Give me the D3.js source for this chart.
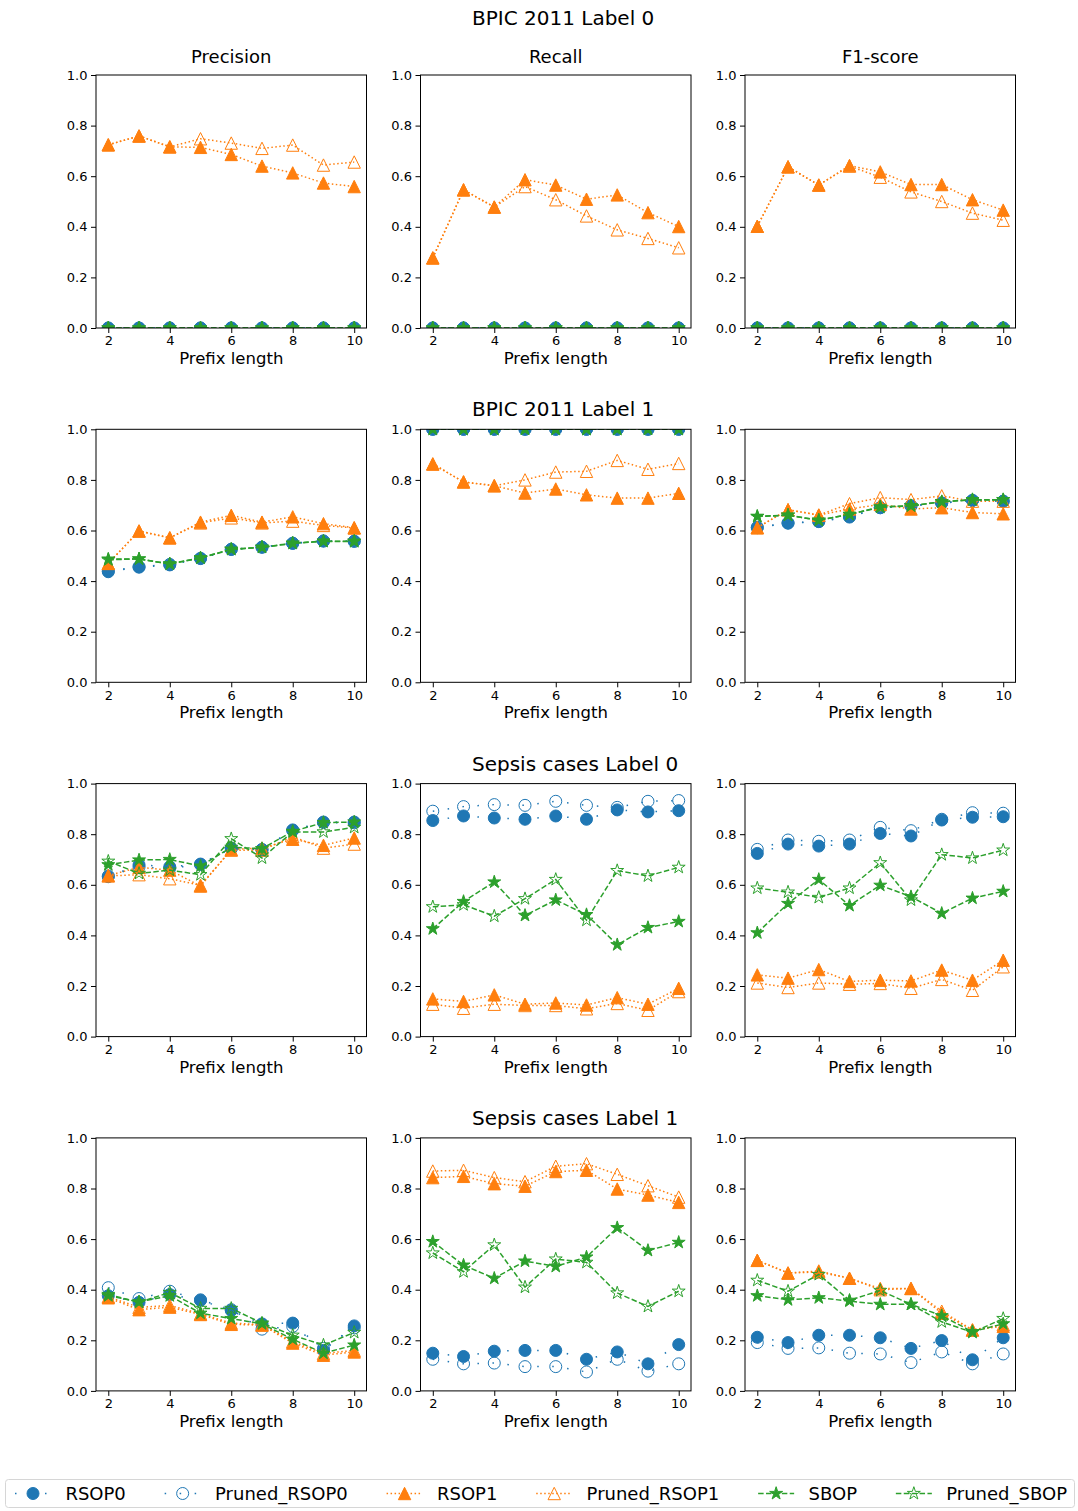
<!DOCTYPE html>
<html>
<head>
<meta charset="utf-8">
<script src="https://cdn.jsdelivr.net/npm/d3@7"></script>
<style>
  body { margin: 0; background: #ffffff; }
  svg { display: block; }
  text { font-family: "DejaVu Sans", sans-serif; fill: #000; }
</style>
</head>
<body>
<svg id="fig" width="1078" height="1511"></svg>
<script>
// ---- data -------------------------------------------------------------
const prefixLengths = [2, 3, 4, 5, 6, 7, 8, 9, 10];
const seriesNames = ["RSOP0", "Pruned_RSOP0", "RSOP1", "Pruned_RSOP1", "SBOP", "Pruned_SBOP"];
const metricNames = ["Precision", "Recall", "F1-score"];
const datasetTitles = ["BPIC 2011 Label 0", "BPIC 2011 Label 1", "Sepsis cases Label 0", "Sepsis cases Label 1"];
const xTickValues = [2, 4, 6, 8, 10];
const yTickValues = [0, 0.2, 0.4, 0.6, 0.8, 1.0];

// each panel: one list per series, in seriesNames order
const bpic0Precision = [
  [0, 0, 0, 0, 0, 0, 0, 0, 0],
  [0, 0, 0, 0, 0, 0, 0, 0, 0],
  [0.724, 0.759, 0.716, 0.714, 0.686, 0.640, 0.613, 0.573, 0.559],
  [0.724, 0.759, 0.716, 0.748, 0.731, 0.710, 0.723, 0.644, 0.656],
  [0, 0, 0, 0, 0, 0, 0, 0, 0],
  [0, 0, 0, 0, 0, 0, 0, 0, 0]
];
const bpic0Recall = [
  [0, 0, 0, 0, 0, 0, 0, 0, 0],
  [0, 0, 0, 0, 0, 0, 0, 0, 0],
  [0.277, 0.546, 0.478, 0.586, 0.565, 0.509, 0.526, 0.456, 0.401],
  [0.277, 0.546, 0.478, 0.559, 0.507, 0.443, 0.388, 0.354, 0.317],
  [0, 0, 0, 0, 0, 0, 0, 0, 0],
  [0, 0, 0, 0, 0, 0, 0, 0, 0]
];
const bpic0F1 = [
  [0, 0, 0, 0, 0, 0, 0, 0, 0],
  [0, 0, 0, 0, 0, 0, 0, 0, 0],
  [0.402, 0.637, 0.565, 0.642, 0.617, 0.567, 0.567, 0.507, 0.466],
  [0.402, 0.637, 0.565, 0.640, 0.596, 0.538, 0.500, 0.454, 0.426],
  [0, 0, 0, 0, 0, 0, 0, 0, 0],
  [0, 0, 0, 0, 0, 0, 0, 0, 0]
];
const bpic1Precision = [
  [0.437, 0.455, 0.464, 0.489, 0.525, 0.534, 0.549, 0.558, 0.558],
  [0.440, 0.457, 0.466, 0.490, 0.526, 0.534, 0.550, 0.559, 0.557],
  [0.470, 0.598, 0.571, 0.633, 0.660, 0.633, 0.654, 0.627, 0.611],
  [0.470, 0.598, 0.571, 0.630, 0.650, 0.630, 0.637, 0.620, 0.610],
  [0.487, 0.487, 0.468, 0.492, 0.526, 0.534, 0.550, 0.558, 0.558],
  [0.484, 0.488, 0.467, 0.491, 0.525, 0.533, 0.549, 0.557, 0.556]
];
const bpic1Recall = [
  [1, 1, 1, 1, 1, 1, 1, 1, 1],
  [1, 1, 1, 1, 1, 1, 1, 1, 1],
  [0.863, 0.792, 0.777, 0.748, 0.764, 0.741, 0.728, 0.728, 0.747],
  [0.863, 0.792, 0.777, 0.800, 0.831, 0.834, 0.877, 0.842, 0.865],
  [1, 1, 1, 1, 1, 1, 1, 1, 1],
  [1, 1, 1, 1, 1, 1, 1, 1, 1]
];
const bpic1F1 = [
  [0.611, 0.629, 0.635, 0.653, 0.690, 0.698, 0.708, 0.719, 0.716],
  [0.613, 0.630, 0.636, 0.655, 0.690, 0.697, 0.709, 0.719, 0.716],
  [0.611, 0.682, 0.661, 0.685, 0.703, 0.685, 0.690, 0.671, 0.666],
  [0.611, 0.682, 0.661, 0.706, 0.730, 0.722, 0.737, 0.716, 0.716],
  [0.656, 0.661, 0.640, 0.664, 0.693, 0.698, 0.714, 0.722, 0.722],
  [0.655, 0.660, 0.641, 0.663, 0.692, 0.697, 0.713, 0.721, 0.721]
];
const sepsis0Precision = [
  [0.632, 0.679, 0.671, 0.682, 0.743, 0.740, 0.817, 0.848, 0.848],
  [0.635, 0.670, 0.665, 0.680, 0.745, 0.738, 0.815, 0.846, 0.845],
  [0.637, 0.669, 0.658, 0.595, 0.740, 0.745, 0.780, 0.756, 0.785],
  [0.635, 0.640, 0.624, 0.598, 0.737, 0.737, 0.790, 0.745, 0.761],
  [0.679, 0.698, 0.700, 0.674, 0.748, 0.743, 0.811, 0.846, 0.848],
  [0.693, 0.645, 0.658, 0.640, 0.782, 0.706, 0.809, 0.809, 0.827]
];
const sepsis0Recall = [
  [0.854, 0.872, 0.864, 0.859, 0.872, 0.859, 0.896, 0.888, 0.893],
  [0.891, 0.909, 0.917, 0.914, 0.930, 0.914, 0.906, 0.930, 0.933],
  [0.149, 0.139, 0.165, 0.128, 0.133, 0.125, 0.154, 0.128, 0.191],
  [0.128, 0.112, 0.128, 0.123, 0.123, 0.110, 0.131, 0.104, 0.178],
  [0.426, 0.534, 0.611, 0.479, 0.540, 0.482, 0.363, 0.431, 0.455],
  [0.513, 0.521, 0.476, 0.545, 0.621, 0.460, 0.656, 0.635, 0.669]
];
const sepsis0F1 = [
  [0.724, 0.761, 0.753, 0.761, 0.803, 0.793, 0.856, 0.867, 0.869],
  [0.740, 0.777, 0.772, 0.777, 0.827, 0.814, 0.859, 0.885, 0.883],
  [0.244, 0.231, 0.265, 0.218, 0.223, 0.220, 0.263, 0.223, 0.302],
  [0.212, 0.194, 0.212, 0.207, 0.210, 0.191, 0.226, 0.183, 0.276],
  [0.410, 0.526, 0.621, 0.518, 0.598, 0.553, 0.487, 0.547, 0.574],
  [0.587, 0.571, 0.550, 0.587, 0.687, 0.540, 0.719, 0.706, 0.737]
];
const sepsis1Precision = [
  [0.376, 0.350, 0.381, 0.358, 0.318, 0.265, 0.268, 0.160, 0.257],
  [0.408, 0.365, 0.394, 0.360, 0.321, 0.244, 0.255, 0.168, 0.249],
  [0.368, 0.321, 0.331, 0.302, 0.263, 0.260, 0.189, 0.141, 0.154],
  [0.372, 0.330, 0.338, 0.305, 0.268, 0.262, 0.195, 0.148, 0.160],
  [0.376, 0.352, 0.376, 0.307, 0.286, 0.265, 0.204, 0.149, 0.181],
  [0.381, 0.350, 0.389, 0.326, 0.326, 0.268, 0.220, 0.181, 0.231]
];
const sepsis1Recall = [
  [0.149, 0.136, 0.157, 0.160, 0.160, 0.125, 0.154, 0.107, 0.183],
  [0.125, 0.107, 0.110, 0.096, 0.096, 0.075, 0.125, 0.078, 0.107],
  [0.843, 0.848, 0.819, 0.809, 0.867, 0.872, 0.798, 0.774, 0.745],
  [0.869, 0.872, 0.843, 0.827, 0.888, 0.898, 0.856, 0.811, 0.766],
  [0.590, 0.497, 0.445, 0.513, 0.492, 0.529, 0.645, 0.555, 0.587],
  [0.545, 0.471, 0.577, 0.410, 0.521, 0.508, 0.387, 0.334, 0.394]
];
const sepsis1F1 = [
  [0.212, 0.191, 0.220, 0.220, 0.210, 0.168, 0.199, 0.123, 0.210],
  [0.191, 0.168, 0.170, 0.149, 0.146, 0.112, 0.154, 0.107, 0.146],
  [0.516, 0.466, 0.474, 0.445, 0.405, 0.405, 0.307, 0.241, 0.255],
  [0.516, 0.466, 0.470, 0.445, 0.400, 0.405, 0.315, 0.241, 0.262],
  [0.376, 0.360, 0.368, 0.355, 0.342, 0.342, 0.297, 0.234, 0.265],
  [0.437, 0.394, 0.460, 0.358, 0.397, 0.342, 0.273, 0.231, 0.286]
];

const panelRows = [
  [bpic0Precision, bpic0Recall, bpic0F1],
  [bpic1Precision, bpic1Recall, bpic1F1],
  [sepsis0Precision, sepsis0Recall, sepsis0F1],
  [sepsis1Precision, sepsis1Recall, sepsis1F1]
];

// ---- styles -------------------------------------------------------------
const BLUE = "#1f77b4", ORANGE = "#ff7f0e", GREEN = "#2ca02c";
const seriesStyle = [
  { color: BLUE,   marker: "circle",   filled: true,  dash: "1.5 13.5" },
  { color: BLUE,   marker: "circle",   filled: false, dash: "1.5 13.5" },
  { color: ORANGE, marker: "triangle", filled: true,  dash: "1.5 2.5" },
  { color: ORANGE, marker: "triangle", filled: false, dash: "1.5 2.5" },
  { color: GREEN,  marker: "star",     filled: true,  dash: "5.5 2.4" },
  { color: GREEN,  marker: "star",     filled: false, dash: "5.5 2.4" }
];

function markerPath(kind) {
  const p = d3.path();
  if (kind === "circle") {
    const r = 6;
    p.moveTo(r, 0); p.arc(0, 0, r, 0, 2 * Math.PI); p.closePath();
  } else if (kind === "triangle") {
    const r = 6.2;
    p.moveTo(0, -r); p.lineTo(r, r); p.lineTo(-r, r); p.closePath();
  } else {
    const R = 6.8, ri = R * 0.381966;
    for (let k = 0; k < 10; k++) {
      const rad = k % 2 === 0 ? R : ri;
      const a = -Math.PI / 2 + k * Math.PI / 5;
      const px = rad * Math.cos(a), py = rad * Math.sin(a);
      if (k === 0) p.moveTo(px, py); else p.lineTo(px, py);
    }
    p.closePath();
  }
  return p.toString();
}

function drawMarker(sel, style) {
  return sel.append("path")
    .attr("d", markerPath(style.marker))
    .attr("fill", style.filled ? style.color : "none")
    .attr("stroke", style.color)
    .attr("stroke-width", 1);
}

// ---- layout -------------------------------------------------------------
const svg = d3.select("#fig");
const axLeft0 = 96, axColStep = 324.5, axWidth = 270.5;
const axTop0 = 75, axRowStep = 354.3, axHeight = 253;

const x = d3.scaleLinear().domain([1.6, 10.4]).range([0, axWidth]);
const y = d3.scaleLinear().domain([0, 1]).range([axHeight, 0]);

const line = d3.line().x((d, i) => x(prefixLengths[i])).y(d => y(d));

panelRows.forEach((row, ri) => {
  const top = axTop0 + ri * axRowStep;

  // dataset title over the row
  svg.append("text")
    .attr("x", 472)
    .attr("y", ri === 0 ? 25 : top - 13)
    .attr("font-size", 20)
    .text(datasetTitles[ri]);

  row.forEach((panel, ci) => {
    const left = axLeft0 + ci * axColStep;
    const g = svg.append("g").attr("transform", `translate(${left},${top})`);
    const clipId = `clip-${ri}-${ci}`;
    g.append("clipPath").attr("id", clipId)
      .append("rect").attr("width", axWidth).attr("height", axHeight);

    if (ri === 0) {
      g.append("text")
        .attr("x", axWidth / 2).attr("y", -12)
        .attr("text-anchor", "middle")
        .attr("font-size", 18)
        .text(metricNames[ci]);
    }

    const plot = g.append("g").attr("clip-path", `url(#${clipId})`);
    panel.forEach((values, si) => {
      const st = seriesStyle[si];
      const sg = plot.append("g");
      sg.append("path")
        .attr("d", line(values))
        .attr("fill", "none")
        .attr("stroke", st.color)
        .attr("stroke-width", 1.5)
        .attr("stroke-dasharray", st.dash);
      values.forEach((v, i) => {
        const m = sg.append("g").attr("transform", `translate(${x(prefixLengths[i])},${y(v)})`);
        drawMarker(m, st);
      });
    });

    // axes
    const xAxis = d3.axisBottom(x).tickValues(xTickValues).tickSize(5).tickPadding(3)
      .tickFormat(d3.format("d"));
    const yAxis = d3.axisLeft(y).tickValues(yTickValues).tickSize(5).tickPadding(3.5)
      .tickFormat(d3.format(".1f"));

    const gx = g.append("g").attr("transform", `translate(0,${axHeight})`).call(xAxis);
    const gy = g.append("g").call(yAxis);
    [gx, gy].forEach(a => {
      a.select(".domain").remove();
      a.selectAll(".tick line").attr("stroke", "#000").attr("stroke-width", 1);
      a.selectAll(".tick text").attr("font-size", 13).attr("fill", "#000")
        .attr("font-family", "DejaVu Sans, sans-serif");
    });

    g.append("rect")
      .attr("width", axWidth).attr("height", axHeight)
      .attr("fill", "none").attr("stroke", "#000").attr("stroke-width", 1);

    g.append("text")
      .attr("x", axWidth / 2).attr("y", axHeight + 36)
      .attr("text-anchor", "middle")
      .attr("font-size", 16.5)
      .text("Prefix length");
  });
});

// ---- legend -------------------------------------------------------------
const legendBox = { x0: 5, x1: 1075, y0: 1479, y1: 1508 };
const leg = svg.append("g");
leg.append("rect")
  .attr("x", legendBox.x0 + 0.5).attr("y", legendBox.y0 + 0.5)
  .attr("width", legendBox.x1 - legendBox.x0 - 1).attr("height", legendBox.y1 - legendBox.y0 - 1)
  .attr("rx", 3).attr("fill", "#fff").attr("stroke", "#d6d6d6").attr("stroke-width", 1);

const handleLen = 36, textPad = 14.4;
const labels = seriesNames.map(name => leg.append("text").attr("font-size", 18).text(name));
const widths = labels.map(t => t.node().getComputedTextLength());
const innerL = legendBox.x0 + 10, innerR = legendBox.x1 - 8;
const used = d3.sum(widths) + seriesNames.length * (handleLen + textPad);
const gap = (innerR - innerL - used) / (seriesNames.length - 1);
const cy = (legendBox.y0 + legendBox.y1) / 2;
let cursor = innerL;
seriesNames.forEach((name, i) => {
  const st = seriesStyle[i];
  leg.append("line")
    .attr("x1", cursor).attr("x2", cursor + handleLen)
    .attr("y1", cy).attr("y2", cy)
    .attr("stroke", st.color).attr("stroke-width", 1.5)
    .attr("stroke-dasharray", st.dash);
  drawMarker(leg.append("g").attr("transform", `translate(${cursor + handleLen / 2},${cy})`), st);
  labels[i].attr("x", cursor + handleLen + textPad).attr("y", cy + 6.5);
  cursor += handleLen + textPad + widths[i] + gap;
});
</script>
</body>
</html>
